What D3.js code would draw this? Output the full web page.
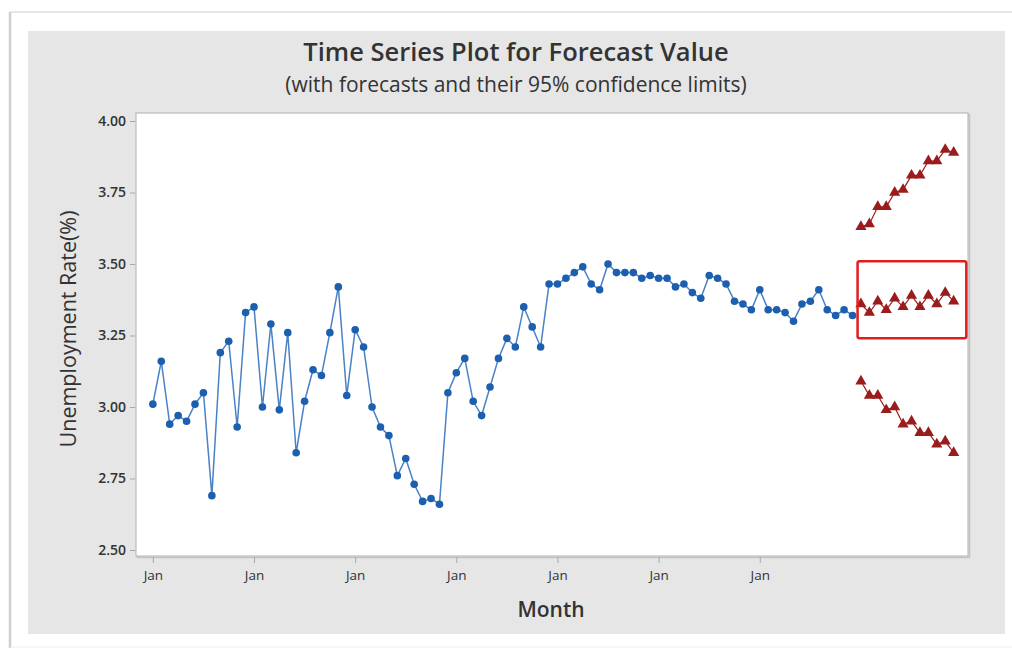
<!DOCTYPE html>
<html>
<head>
<meta charset="utf-8">
<script src="https://cdn.jsdelivr.net/npm/d3@7"></script>
<style>
  body { margin: 0; background: #fff; }
  text { font-family: "Open Sans", "Noto Sans", sans-serif; fill: #333; }
</style>
</head>
<body>
<script>
var w = 1012;
var h = 648;

// monthly unemployment rate (%), 7 years of history
var actual = [3.01, 3.16, 2.94, 2.97, 2.95, 3.01, 3.05, 2.69, 3.19, 3.23, 2.93, 3.33,
              3.35, 3.00, 3.29, 2.99, 3.26, 2.84, 3.02, 3.13, 3.11, 3.26, 3.42, 3.04,
              3.27, 3.21, 3.00, 2.93, 2.90, 2.76, 2.82, 2.73, 2.67, 2.68, 2.66, 3.05,
              3.12, 3.17, 3.02, 2.97, 3.07, 3.17, 3.24, 3.21, 3.35, 3.28, 3.21, 3.43,
              3.43, 3.45, 3.47, 3.49, 3.43, 3.41, 3.50, 3.47, 3.47, 3.47, 3.45, 3.46,
              3.45, 3.45, 3.42, 3.43, 3.40, 3.38, 3.46, 3.45, 3.43, 3.37, 3.36, 3.34,
              3.41, 3.34, 3.34, 3.33, 3.30, 3.36, 3.37, 3.41, 3.34, 3.32, 3.34, 3.32];

// 12 month forecast and 95% limits
var forecast = [3.36, 3.33, 3.37, 3.34, 3.38, 3.35, 3.39, 3.35, 3.39, 3.36, 3.40, 3.37];
var upper    = [3.63, 3.64, 3.70, 3.70, 3.75, 3.76, 3.81, 3.81, 3.86, 3.86, 3.90, 3.89];
var lower    = [3.09, 3.04, 3.04, 2.99, 3.00, 2.94, 2.95, 2.91, 2.91, 2.87, 2.88, 2.84];

var yTicks = [2.50, 2.75, 3.00, 3.25, 3.50, 3.75, 4.00];
var xTicks = [0, 12, 24, 36, 48, 60, 72];
var xTickLabels = ["Jan", "Jan", "Jan", "Jan", "Jan", "Jan", "Jan"];

// highlight box around the forecasts (data units)
var boxX = [83.6, 96.5];
var boxY = [3.51, 3.24];

var nActual = actual.length;

var svg = d3.select("body")
    .append("svg")
        .attr("width", w)
        .attr("height", h);

// page frame
svg.append("line").attr("x1", 10).attr("y1", 12).attr("x2", w).attr("y2", 12)
    .attr("stroke", "#dedede").attr("stroke-width", 1.5);
svg.append("line").attr("x1", 10).attr("y1", 12).attr("x2", 10).attr("y2", h)
    .attr("stroke", "#cfcfcf").attr("stroke-width", 2.5);
svg.append("line").attr("x1", 10).attr("y1", 647).attr("x2", w).attr("y2", 647)
    .attr("stroke", "#eeeeee").attr("stroke-width", 1);

// gray chart panel
svg.append("rect")
    .attr("x", 28).attr("y", 31)
    .attr("width", 977).attr("height", 603)
    .attr("fill", "#e6e6e6");

var pLeft = 136, pRight = 968, pTop = 113, pBottom = 556;

var x = d3.scaleLinear().domain([-2, 96.7]).range([pLeft, pRight]);
var y = d3.scaleLinear().domain([2.5, 4.0]).range([550, 121]);

// plot area with light shadow
svg.append("rect")
    .attr("x", pLeft + 1.5).attr("y", pTop + 1.5)
    .attr("width", pRight - pLeft).attr("height", pBottom - pTop)
    .attr("fill", "none").attr("stroke", "#c4c4c4").attr("stroke-width", 1.5);
svg.append("rect")
    .attr("x", pLeft).attr("y", pTop)
    .attr("width", pRight - pLeft).attr("height", pBottom - pTop)
    .attr("fill", "#fff").attr("stroke", "#b0b0b0").attr("stroke-width", 1);

// axes
var yAxis = d3.axisLeft(y)
    .tickValues(yTicks)
    .tickFormat(d3.format(".2f"))
    .tickSize(5)
    .tickPadding(4);

var gy = svg.append("g")
    .attr("transform", "translate(" + (pLeft - 1) + ",0)")
    .call(yAxis);

var xAxis = d3.axisBottom(x)
    .tickValues(xTicks)
    .tickFormat(function(d, i) { return xTickLabels[i]; })
    .tickSize(6)
    .tickPadding(7);

var gx = svg.append("g")
    .attr("transform", "translate(0," + (pBottom + 1) + ")")
    .call(xAxis);

[gx, gy].forEach(function(g) {
    g.select(".domain").remove();
    g.selectAll(".tick line").attr("stroke", "#a8a8a8");
    g.selectAll(".tick text")
        .attr("font-family", "'Open Sans', sans-serif")
        .attr("font-size", 14)
        .attr("font-weight", 600)
        .attr("fill", "#3a3a3a");
});
gx.selectAll(".tick text").attr("font-size", 13.5).attr("font-weight", 500);

// actual series
var blue = "#1c5fae";
var line = d3.line()
    .x(function(d, i) { return x(i); })
    .y(function(d) { return y(d); });

svg.append("path")
    .datum(actual)
    .attr("d", line)
    .attr("fill", "none")
    .attr("stroke", "#4a82c6")
    .attr("stroke-width", 1.5);

svg.selectAll("circle.actual")
    .data(actual)
    .enter()
    .append("circle")
        .attr("class", "actual")
        .attr("cx", function(d, i) { return x(i); })
        .attr("cy", function(d) { return y(d); })
        .attr("r", 3.8)
        .attr("fill", blue);

// forecast series with limits
var red = "#9a1c1c";
var fLine = d3.line()
    .x(function(d, i) { return x(nActual + i); })
    .y(function(d) { return y(d); });

var tri = d3.symbol().type(d3.symbolTriangle).size(54);

[forecast, upper, lower].forEach(function(series, k) {
    svg.append("path")
        .datum(series)
        .attr("d", fLine)
        .attr("fill", "none")
        .attr("stroke", red)
        .attr("stroke-width", 1.2);

    svg.selectAll("path.tri" + k)
        .data(series)
        .enter()
        .append("path")
            .attr("class", "tri" + k)
            .attr("d", tri)
            .attr("transform", function(d, i) {
                return "translate(" + x(nActual + i) + "," + y(d) + ")";
            })
            .attr("fill", red);
});

// red highlight box
svg.append("rect")
    .attr("x", x(boxX[0]))
    .attr("y", y(boxY[0]))
    .attr("width", x(boxX[1]) - x(boxX[0]))
    .attr("height", y(boxY[1]) - y(boxY[0]))
    .attr("rx", 2)
    .attr("fill", "none")
    .attr("stroke", "#e01e1e")
    .attr("stroke-width", 2.5);

// titles
svg.append("text")
    .attr("x", 516).attr("y", 61)
    .attr("text-anchor", "middle")
    .attr("font-size", 25.5)
    .attr("font-weight", 600)
    .attr("fill", "#222")
    .text("Time Series Plot for Forecast Value");

svg.append("text")
    .attr("x", 516).attr("y", 92)
    .attr("text-anchor", "middle")
    .attr("font-size", 21)
    .attr("font-weight", 500)
    .attr("fill", "#222")
    .text("(with forecasts and their 95% confidence limits)");

svg.append("text")
    .attr("x", 551).attr("y", 617)
    .attr("text-anchor", "middle")
    .attr("font-size", 21)
    .attr("font-weight", 600)
    .text("Month");

svg.append("text")
    .attr("transform", "translate(76,329) rotate(-90)")
    .attr("text-anchor", "middle")
    .attr("font-size", 21.5)
    .attr("font-weight", 500)
    .text("Unemployment Rate(%)");
</script>
</body>
</html>
